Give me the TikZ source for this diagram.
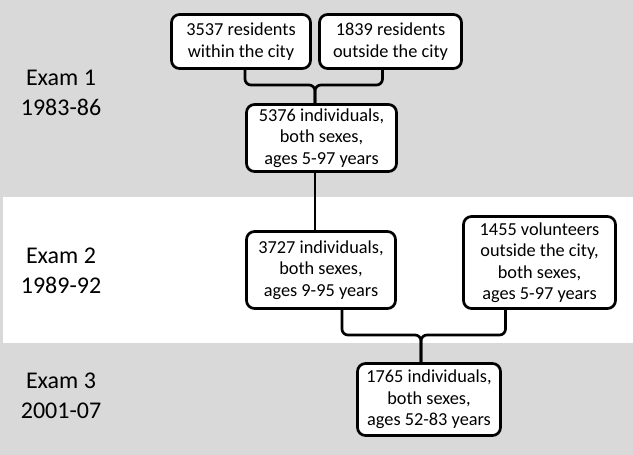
\documentclass[tikz,border=0pt]{standalone}
\usepackage{fontspec}
\setmainfont{Carlito}
\usetikzlibrary{positioning}
\definecolor{BandGray}{RGB}{217, 217, 217}

\begin{document}
\begin{tikzpicture}[x=1pt, y=-1pt,
    cohort/.style={draw, line width=2.7pt, rounded corners=8pt, fill=white,
      align=center, inner sep=0pt, font=\fontsize{18.3}{21.5}\selectfont},
    examlabel/.style={align=center, font=\fontsize{24}{30}\selectfont},
    joinline/.style={line width=2.7pt, rounded corners=6pt}]
    % Background bands
    \fill[BandGray] (0,0) rectangle (633,455);
    \fill[white] (3,197) rectangle (633,343);
    \useasboundingbox (0,0) rectangle (633,455);

    % Exam labels
    \node[examlabel] (exam1) at (61,93) {Exam 1\\1983-86};
    \node[examlabel] (exam2) at (61,271) {Exam 2\\1989-92};
    \node[examlabel] (exam3) at (61,396) {Exam 3\\2001-07};

    % Exam 1 cohorts
    \node[cohort, minimum width=139pt, minimum height=54pt] (within) at (241,41.5) {3537 residents\\within the city};
    \node[cohort, minimum width=142pt, minimum height=54pt] (outside) at (390.5,41.5) {1839 residents\\outside the city};
    \node[cohort, minimum width=150pt, minimum height=67pt] (merged) at (321.5,138) {5376 individuals,\\both sexes,\\ages 5-97 years};

    % Exam 2 cohorts
    \node[cohort, minimum width=149pt, minimum height=77pt] (second) at (321,270) {3727 individuals,\\both sexes,\\ages 9-95 years};
    \node[cohort, minimum width=152pt, minimum height=92pt] (volunteers) at (539.5,262.5) {1455 volunteers\\outside the city,\\both sexes,\\ages 5-97 years};

    % Exam 3 cohort
    \node[cohort, minimum width=143pt, minimum height=72pt] (third) at (429,399.5) {1765 individuals,\\both sexes,\\ages 52-83 years};

    % Connectors
    \coordinate (join1) at (315,85);
    \draw[joinline] ([xshift=4pt]within.south) |- (join1) -- (join1 |- merged.north);
    \draw[joinline] ([xshift=-8pt]outside.south) |- (join1) -- (join1 |- merged.north);
    \draw[joinline] (join1 |- merged.south) -- (join1 |- second.north);

    \coordinate (join2) at (421,335);
    \draw[joinline] ([xshift=21pt]second.south) |- (join2) -- (join2 |- third.north);
    \draw[joinline] ([xshift=-34pt]volunteers.south) |- (join2) -- (join2 |- third.north);
  \end{tikzpicture}
\end{document}
